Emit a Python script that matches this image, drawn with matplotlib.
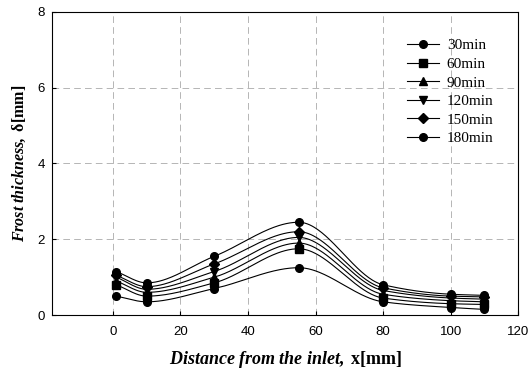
import matplotlib
matplotlib.use("Agg")
import matplotlib.pyplot as plt
import numpy as np

plt.rcParams['mathtext.fontset'] = 'custom'
plt.rcParams['mathtext.rm'] = 'Liberation Serif'
plt.rcParams['mathtext.bf'] = 'Liberation Serif:bold'
plt.rcParams['mathtext.it'] = 'Liberation Serif:italic'
plt.rcParams['mathtext.bfit'] = 'Liberation Serif:bold:italic'

# measured positions along the channel
x_pos = [1, 10, 30, 55, 80, 100, 110]
labels = ['30min', '60min', '90min', '120min', '150min', '180min']
t30 = [0.50, 0.35, 0.70, 1.25, 0.35, 0.20, 0.15]
t60 = [0.80, 0.50, 0.85, 1.75, 0.45, 0.30, 0.28]
t90 = [0.90, 0.60, 1.00, 1.90, 0.55, 0.38, 0.35]
t120 = [1.00, 0.68, 1.15, 2.05, 0.65, 0.45, 0.42]
t150 = [1.05, 0.75, 1.35, 2.20, 0.72, 0.50, 0.48]
t180 = [1.15, 0.85, 1.55, 2.45, 0.80, 0.55, 0.52]
series = [t30, t60, t90, t120, t150, t180]
markers = ['o', 's', '^', 'v', 'D', 'o']


def pchip(x, y, xs):
    # monotone cubic (Fritsch-Carlson), only used to draw the smooth line
    x = np.asarray(x, float)
    y = np.asarray(y, float)
    h = np.diff(x)
    d = np.diff(y) / h
    n = len(x)
    m = np.zeros(n)
    for i in range(1, n - 1):
        if d[i - 1] * d[i] > 0:
            w1 = 2 * h[i] + h[i - 1]
            w2 = h[i] + 2 * h[i - 1]
            m[i] = (w1 + w2) / (w1 / d[i - 1] + w2 / d[i])
    m[0] = d[0]
    m[-1] = d[-1]
    out = np.empty_like(xs)
    for k, xv in enumerate(xs):
        i = min(max(np.searchsorted(x, xv) - 1, 0), n - 2)
        t = (xv - x[i]) / h[i]
        h00 = 2 * t**3 - 3 * t**2 + 1
        h10 = t**3 - 2 * t**2 + t
        h01 = -2 * t**3 + 3 * t**2
        h11 = t**3 - t**2
        out[k] = h00 * y[i] + h10 * h[i] * m[i] + h01 * y[i + 1] + h11 * h[i] * m[i + 1]
    return out


fig = plt.figure(figsize=(5.31, 3.72), dpi=100)
ax = fig.add_axes([0.098, 0.153, 0.878, 0.815])

xs = np.linspace(x_pos[0], x_pos[-1], 300)
for vals, m, lab in zip(series, markers, labels):
    ax.plot(xs, pchip(x_pos, vals, xs), color='black', lw=0.8)
    ax.plot(x_pos, vals, linestyle='none', marker=m, color='black', markersize=5.5)
    # legend proxy
    ax.plot([], [], color='black', lw=0.8, marker=m, markersize=5.5, label=lab)

ax.set_xlim(-18, 120)
ax.set_ylim(0, 8)
ax.set_xticks([0, 20, 40, 60, 80, 100, 120])
ax.set_yticks([0, 2, 4, 6, 8])
ax.grid(True, color='#aaaaaa', linestyle=(0, (8, 5)), lw=0.6)
ax.tick_params(direction='in', length=3, labelsize=9.5)
ax.tick_params(axis='x', pad=8)
ax.tick_params(axis='y', pad=5)
for lab in ax.get_xticklabels() + ax.get_yticklabels():
    lab.set_family('Liberation Sans')
for sp in ax.spines.values():
    sp.set_linewidth(0.8)

ax.set_xlabel(r'$\mathbfit{Distance\ from\ the\ inlet,}\ \mathbf{x[mm]}$', fontsize=13, labelpad=8)
ax.set_ylabel(r'$\mathbfit{Frost\ thickness,}\ \mathbf{\delta[mm]}$', fontsize=11.5, labelpad=7)

ax.legend(loc='upper left', bbox_to_anchor=(0.745, 0.937), frameon=False, borderpad=0,
          prop={'family': 'Liberation Serif', 'size': 11}, handlelength=2.1,
          labelspacing=0.32, handletextpad=0.5)

fig.savefig('out.png', dpi=100)
